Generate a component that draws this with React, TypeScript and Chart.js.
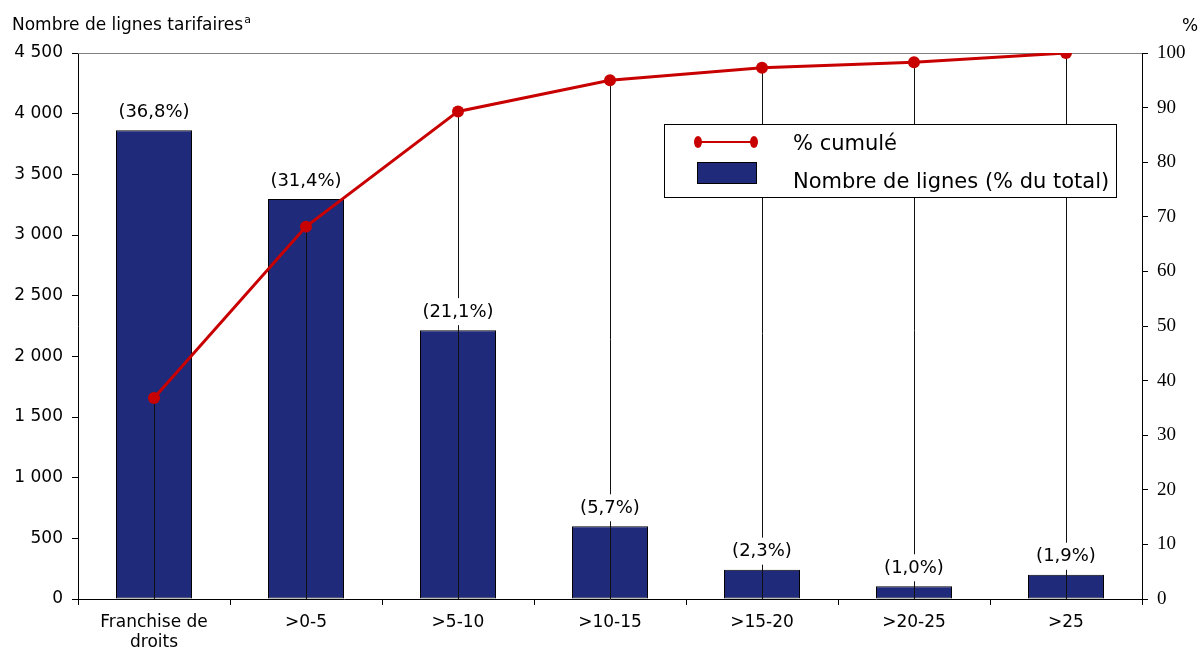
import { useEffect, useRef } from 'react';
import { Chart, registerables } from 'chart.js';

Chart.register(...registerables);

const categories: (string | string[])[] = [['Franchise de', 'droits'], '>0-5', '>5-10', '>10-15', '>15-20', '>20-25', '>25'];
const lineCounts = [3864, 3297, 2216, 599, 242, 105, 200];
const shareLabels = ['(36,8%)', '(31,4%)', '(21,1%)', '(5,7%)', '(2,3%)', '(1,0%)', '(1,9%)'];
const cumulative = [36.8, 68.2, 89.3, 95.0, 97.3, 98.3, 100];
const leftMax = 4500;
const leftStep = 500;
const rightMax = 100;
const rightStep = 10;
const leftTitle = 'Nombre de lignes tarifaires';
const leftTitleSup = 'a';
const rightTitle = '%';
const legendLine = '% cumulé';
const legendBar = 'Nombre de lignes (% du total)';

const RED = '#C80000';
const NAVY = '#202A7A';
const SANS = '"DejaVu Sans", Verdana, sans-serif';
const SERIF = '"Liberation Serif", "Times New Roman", serif';

const fmtThousands = (v: number) => String(v).replace(/\B(?=(\d{3})+(?!\d))/g, ' ');

const overlay = {
  id: 'overlay',
  beforeDatasetsDraw(chart: any) {
    const { ctx, chartArea } = chart;
    ctx.save();
    ctx.strokeStyle = '#808080';
    ctx.lineWidth = 1;
    ctx.beginPath();
    ctx.moveTo(chartArea.left, Math.round(chartArea.top) + 0.5);
    ctx.lineTo(chartArea.right, Math.round(chartArea.top) + 0.5);
    ctx.stroke();
    ctx.restore();
  },
  beforeDatasetDraw(chart: any, args: any) {
    if (args.index !== 1) return;
    const { ctx, chartArea } = chart;
    const meta = chart.getDatasetMeta(1);
    ctx.save();
    ctx.strokeStyle = '#111';
    ctx.lineWidth = 1;
    meta.data.forEach((pt: any) => {
      const x = Math.round(pt.x) + 0.5;
      ctx.beginPath();
      ctx.moveTo(x, pt.y);
      ctx.lineTo(x, chartArea.bottom);
      ctx.stroke();
    });
    ctx.restore();
  },
  afterDatasetsDraw(chart: any) {
    const { ctx } = chart;
    const meta = chart.getDatasetMeta(0);
    ctx.save();
    ctx.font = `18px ${SANS}`;
    ctx.textAlign = 'center';
    ctx.textBaseline = 'middle';
    meta.data.forEach((bar: any, i: number) => {
      const t = shareLabels[i];
      const w = ctx.measureText(t).width + 6;
      const cy = bar.y - 18;
      ctx.fillStyle = '#fff';
      ctx.fillRect(bar.x - w / 2, cy - 14, w, 27);
      ctx.fillStyle = '#000';
      ctx.fillText(t, bar.x, cy);
    });

    // legend
    const lx = 664, ly = 124, lw = 452, lh = 73;
    ctx.fillStyle = '#fff';
    ctx.fillRect(lx, ly, lw, lh);
    ctx.strokeStyle = '#000';
    ctx.lineWidth = 1;
    ctx.strokeRect(lx + 0.5, ly + 0.5, lw, lh);

    ctx.strokeStyle = RED;
    ctx.lineWidth = 2;
    ctx.beginPath();
    ctx.moveTo(698, 142);
    ctx.lineTo(754, 142);
    ctx.stroke();
    ctx.fillStyle = RED;
    [698, 754].forEach((x) => {
      ctx.beginPath();
      ctx.ellipse(x, 142, 4, 6, 0, 0, Math.PI * 2);
      ctx.fill();
    });
    ctx.fillStyle = NAVY;
    ctx.fillRect(697, 162, 59, 21);
    ctx.strokeStyle = '#000';
    ctx.lineWidth = 1;
    ctx.strokeRect(697.5, 162.5, 59, 21);

    ctx.fillStyle = '#000';
    ctx.font = `21px ${SANS}`;
    ctx.textAlign = 'left';
    ctx.textBaseline = 'alphabetic';
    ctx.fillText(legendLine, 793, 150);
    ctx.fillText(legendBar, 793, 188);
    ctx.restore();
  },
  afterDraw(chart: any) {
    const { ctx } = chart;
    ctx.save();
    ctx.fillStyle = '#000';
    ctx.textBaseline = 'alphabetic';
    ctx.textAlign = 'left';
    ctx.font = `17px ${SANS}`;
    ctx.fillText(leftTitle, 12, 30);
    const w = ctx.measureText(leftTitle).width;
    ctx.font = `11px ${SANS}`;
    ctx.fillText(leftTitleSup, 12 + w + 1, 23);
    ctx.font = `17px ${SANS}`;
    ctx.fillText(rightTitle, 1182, 31);
    ctx.restore();
  },
};

export default function App() {
  const ref = useRef<HTMLCanvasElement | null>(null);
  useEffect(() => {
    if (!ref.current) return;
    const chart = new Chart(ref.current, {
      type: 'bar',
      data: {
        labels: categories as any,
        datasets: [
          {
            type: 'bar',
            label: legendBar,
            data: lineCounts,
            backgroundColor: NAVY,
            borderColor: '#000',
            borderWidth: 1,
            borderSkipped: false,
            barPercentage: 0.5,
            categoryPercentage: 1,
            yAxisID: 'y',
            order: 1,
          },
          {
            type: 'line',
            label: legendLine,
            data: cumulative,
            borderColor: RED,
            backgroundColor: RED,
            borderWidth: 3,
            pointRadius: 6,
            pointBackgroundColor: RED,
            pointBorderColor: RED,
            pointBorderWidth: 0,
            tension: 0,
            yAxisID: 'y1',
            order: 0,
          },
        ],
      },
      options: {
        animation: false,
        responsive: true,
        maintainAspectRatio: false,
        layout: { padding: { top: 53, left: 0, right: 0, bottom: 0 } },
        plugins: { legend: { display: false }, tooltip: { enabled: false }, title: { display: false } },
        scales: {
          x: {
            offset: true,
            grid: { display: true, drawOnChartArea: false, drawTicks: true, tickLength: 6, color: '#000', offset: true },
            border: { display: true, color: '#000', width: 1 },
            ticks: { color: '#000', font: { family: SANS, size: 17 }, padding: 7, maxRotation: 0, autoSkip: false },
            afterFit: (s: any) => { s.height = 48; },
          },
          y: {
            position: 'left',
            min: 0,
            max: leftMax,
            grid: { drawOnChartArea: false, drawTicks: true, tickLength: 6, color: '#000' },
            border: { display: true, color: '#000', width: 1 },
            ticks: { stepSize: leftStep, color: '#000', font: { family: SANS, size: 17 }, padding: 9, callback: (v: any) => fmtThousands(Number(v)) },
            afterFit: (s: any) => { s.width = 78; },
          },
          y1: {
            position: 'right',
            min: 0,
            max: rightMax,
            grid: { drawOnChartArea: false, drawTicks: true, tickLength: 6, color: '#000' },
            border: { display: true, color: '#000', width: 1 },
            ticks: { stepSize: rightStep, color: '#000', font: { family: SERIF, size: 19 }, padding: 9 },
            afterFit: (s: any) => { s.width = 58; },
          },
        },
      },
      plugins: [overlay],
    });
    return () => chart.destroy();
  }, []);
  return (
    <div style={{ position: 'absolute', left: 0, top: 0, width: 1200, height: 647, background: '#fff' }}>
      <canvas ref={ref} />
    </div>
  );
}
